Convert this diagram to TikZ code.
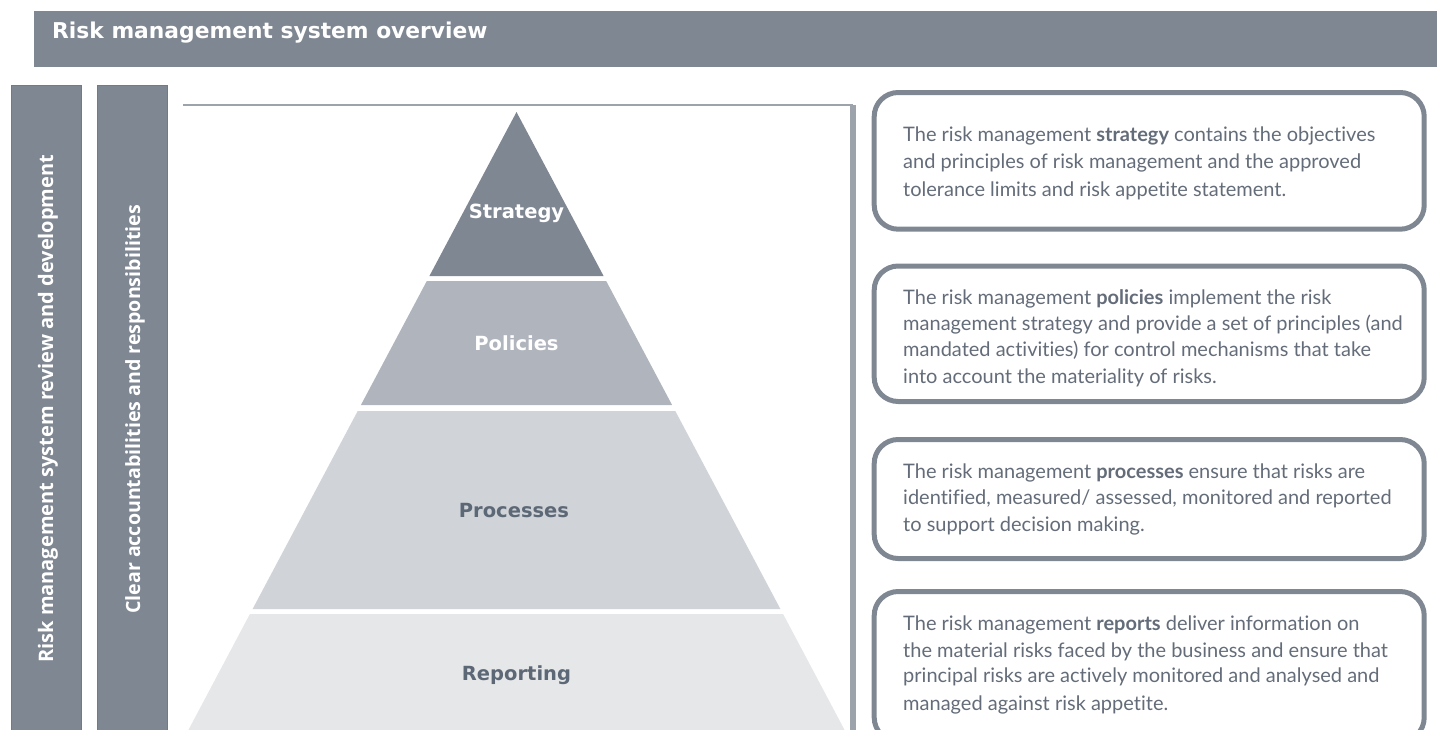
\documentclass[tikz,border=0pt]{standalone}
\usepackage{fontspec}
\setmainfont{Lato}[Ligatures=NoCommon]
\newfontfamily\barfont{Open Sans}
\newfontfamily\headfont{DejaVu Sans}
\definecolor{slate}{RGB}{127,135,146}
\definecolor{barblue}{RGB}{79,129,189}
\definecolor{tiertwo}{RGB}{176,181,189}
\definecolor{tierthree}{RGB}{208,211,216}
\definecolor{tierfour}{RGB}{230,231,233}
\definecolor{rulecol}{RGB}{156,163,171}
\definecolor{desccol}{RGB}{99,108,120}
\definecolor{labelcol}{RGB}{93,104,118}
\begin{document}
\begin{tikzpicture}[x=1pt,y=-1pt,
  hdrbox/.style={fill=slate, draw=none, anchor=north west, inner sep=0, minimum width=1403pt, minimum height=55.5pt},
  hdrtext/.style={anchor=base west, text=white, inner sep=0, font=\headfont\bfseries\fontsize{21.8}{26}\selectfont},
  barbox/.style={fill=slate, draw=barblue, line width=1.2pt, anchor=north west, inner sep=0, minimum width=70pt, minimum height=700pt},
  bartext/.style={rotate=90, anchor=base west, text=white, inner sep=0, font=\barfont\bfseries\fontsize{20}{24}\selectfont},
  tierlabel/.style={anchor=base, inner sep=0, font=\headfont\bfseries\fontsize{19.5}{24}\selectfont},
  descbox/.style={draw=slate, line width=5pt, rounded corners=24pt, minimum width=550pt, inner sep=0},
  desctext/.style={anchor=base west, text=desccol, inner sep=0, font=\fontsize{20}{27}\selectfont},
  rule/.style={draw=rulecol}
]
\useasboundingbox (0,0) rectangle (1437,729);

% header
\node[hdrbox] (hdr) at (34,11) {};
\node[hdrtext] (hdrt) at (52,38) {Risk management system overview};

% vertical bars
\node[barbox] (bar1) at (10.5,85) {};
\node[barbox] (bar2) at (96.5,85) {};
\node[bartext] (bar1t) at (53,663) {Risk management system review and development};
\node[bartext, font=\barfont\bfseries\fontsize{19.6}{24}\selectfont] (bar2t) at (140,614) {Clear accountabilities and responsibilities};

% frame lines
\coordinate (lineL) at (183,105);
\coordinate (lineR) at (853,105);
\coordinate (lineB) at (853,735);
\draw[rule, line width=1.5pt] (lineL) -- (lineR);
\draw[rule, line width=5.5pt] (lineR) -- (lineB);

% pyramid
\fill[slate] (516.5,112) -- (603.6,276) -- (429.4,276) -- cycle;
\fill[tiertwo] (426.8,281) -- (606.2,281) -- (672.1,405) -- (360.9,405) -- cycle;
\fill[tierthree] (357.7,411) -- (675.3,411) -- (780.4,609) -- (252.6,609) -- cycle;
\fill[tierfour] (249.9,614) -- (783.1,614) -- (849.9,740) -- (183.1,740) -- cycle;
\node[tierlabel, text=white] (strat) at (516.5,218) {Strategy};
\node[tierlabel, text=white] (pol) at (516.5,350) {Policies};
\node[tierlabel, text=labelcol] (proc) at (514,517) {Processes};
\node[tierlabel, text=labelcol] (rep) at (516.5,680) {Reporting};

% description boxes
\node[descbox, minimum height=136.7pt] (b1) at (1149.2,160.85) {};
\node[descbox, minimum height=135.5pt] (b2) at (1149.2,333.75) {};
\node[descbox, minimum height=119pt] (b3) at (1149.2,499) {};
\node[descbox, minimum height=150pt] (b4) at (1149.2,666.5) {};

\node[desctext] (b1l1) at (903,141.5) {The risk management \textbf{strategy} contains the objectives};
\node[desctext] (b1l2) at (903,168.5) {and principles of risk management and the approved};
\node[desctext] (b1l3) at (903,196.5) {tolerance limits and risk appetite statement.};

\node[desctext] (b2l1) at (903,304) {The risk management \textbf{policies} implement the risk};
\node[desctext] (b2l2) at (903,330) {management strategy and provide a set of principles (and};
\node[desctext] (b2l3) at (903,356) {mandated activities) for control mechanisms that take};
\node[desctext] (b2l4) at (903,383) {into account the materiality of risks.};

\node[desctext] (b3l1) at (903,478) {The risk management \textbf{processes} ensure that risks are};
\node[desctext] (b3l2) at (903,504.5) {identified, measured/ assessed, monitored and reported};
\node[desctext] (b3l3) at (903,531) {to support decision making.};

\node[desctext] (b4l1) at (903,630.5) {The risk management \textbf{reports} deliver information on};
\node[desctext] (b4l2) at (903,657.5) {the material risks faced by the business and ensure that};
\node[desctext] (b4l3) at (903,682) {principal risks are actively monitored and analysed and};
\node[desctext] (b4l4) at (903,710) {managed against risk appetite.};
\end{tikzpicture}
\end{document}
